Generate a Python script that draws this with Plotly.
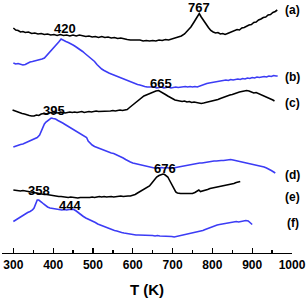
import plotly.graph_objects as go

# ---- data (temperature in K, intensity in arbitrary units, offset per trace) ----
a_T = [300,306,312,318,324,330,338,346,354,362,370,378,386,394,402,410,418,426,434,442,450,458,466,474,482,490,498,506,514,522,530,538,546,554,562,570,578,586,594,602,610,618,626,634,642,650,658,666,674,682,690,698,706,714,722,730,738,746,754,760,767,772,778,784,790,796,802,808,814,820,826,832,838,844,850,856,862,868,874,880,886,892,898,904,910,916,922,928,934,940,946,952,958,963]
a_I = [225,223,222.5,221,221.5,220.5,221,219.5,220,219,219.5,218.5,219,218,218.5,217.5,218.5,217.5,218,217,218,217,218,217.5,216.5,217,216,216.5,215.5,216.5,215.5,216,215,215.5,214.5,215,214,213.5,213,213,212.5,213,212,212.5,212,212.5,212,213,212.5,213.5,213,214,214.5,215.5,217,219,222,226,231,235,239.5,236,233,229,225.5,222.5,221,220,220.5,219,219.5,218.5,219.5,220.5,221.5,222,223.5,223,225,225.5,227,228,228.5,230.5,231,233,234,235.5,236,238,238.5,240.5,241.5,243]

b_T = [300,306,312,318,324,330,336,342,348,354,360,366,372,378,384,390,396,402,408,414,420,426,432,438,444,450,456,462,468,474,480,486,492,498,504,510,516,522,528,534,540,546,552,558,564,570,576,582,588,594,600,606,612,618,624,630,636,642,648,654,660,666,672,678,684,690,696,702,708,714,720,726,732,738,744,750,756,762,768,774,780,786,792,798,804,810,816,822,828,834,840,846,852,858,864,870,876,882,888,894,900,906,912,918,924,930,936,942,948,954,960,964]
b_I = [190,189,189.5,188.5,188,188.5,190,191,191.5,192,193,193.5,194,195,197.5,200,203,205.5,208,211,214,212.5,211.5,210.5,209.5,208,206.5,205,203.5,201.5,199.5,197.5,196,194,191.5,188.5,186,184,182.5,181,180,179,178,177,176,175,174,173,172,171,170,169.5,168.5,168,167,166.5,166,166,165.5,166,165,165.5,166,165,165.5,166,165,165.5,166,165.5,166,166,166.5,166,166.5,166,166.5,166,167,167.5,168.5,169.5,170,170.5,171,171.5,172,172,172.5,173,172.5,173.5,173,173.5,174,173.5,174.5,174,175,174.5,175.5,175,176,175.5,176,176.5,176,177,176.5,177.5,177,177]

c_T = [298,304,310,316,322,328,334,340,346,352,358,364,370,376,382,388,394,400,406,412,418,424,430,436,442,448,454,460,466,472,478,484,490,496,502,508,514,520,526,532,538,544,550,556,562,568,574,580,586,592,598,604,610,616,622,628,634,640,646,652,658,665,670,676,682,688,694,700,706,712,718,724,730,736,742,748,754,760,766,772,778,784,790,796,802,808,814,820,826,832,838,844,850,856,862,868,874,880,886,892,898,904,910,916,922,928,934,940,946,952,956]
c_I = [143,142,141,140.5,139.5,139,138,137.5,137,137,138,137.5,139,139.5,139,140,140.5,140,140.5,140,141,140.5,140,140.5,141,140.5,141,140.5,141,141.5,140.5,141,141.5,141,141.5,142,141.5,141.5,142,141.5,142,142,142.5,142,142.5,143,142.5,143,143.5,145.5,147.5,149,151,153,155,157,158,159,160.5,161.5,162,162.5,161.5,160,158.5,157,155.5,154,153,152.5,152,151.5,152,151,151.5,150.5,151,150.5,150,149.5,150,150.5,151,152,152.5,153,153.5,154.5,155.5,156,157,158,158.5,159.5,160.5,161,161.5,162,162.5,162,161,160,160.5,159.5,158,157,156,155,154,153,152]

d_T = [300,306,312,318,324,330,336,342,348,354,360,366,370,374,378,382,386,390,395,400,406,412,418,424,430,436,442,448,454,460,466,472,478,484,488,492,498,504,510,516,522,528,534,540,546,552,558,564,570,576,582,588,594,600,606,612,618,624,630,636,642,648,654,660,666,672,678,684,690,696,702,708,714,720,726,732,738,744,750,756,762,768,774,780,786,792,798,804,810,816,822,828,834,840,846,852,858,864,870,876,882,888,894,900,906,912,918,924,930,936,942,948,954,958]
d_I = [106,107,108,108.5,109,110,111,112,113,114,115.5,118,122,126,129,131,132.5,134,135,134.5,134,132.5,131.5,130,128.5,127,126,124.5,123,121.5,120,118.5,117,115.5,112,110,108,106.5,105.5,105,104,103,102,101,100,99.5,98.5,97.5,96.5,95,93.5,92,91,90,89.5,88.5,88,87.5,87,86.5,86,85.5,85,85.5,85,85.5,85,85.5,85,85.5,85,85.5,86,86.5,87,87,87.5,88,88.5,89,89.5,90,90,90.5,91,91,91.5,92,92,92.5,92.5,92.5,93,93,93.5,93,92.5,92,91.5,91,90.5,90,89.5,89,88.5,88,87.5,86.5,86,85,84,82.5,81,80]

e_T = [300,306,312,318,324,330,336,342,348,354,360,366,372,378,384,390,396,402,408,414,420,426,432,438,444,450,456,462,468,474,480,486,492,498,504,510,516,522,528,534,540,546,552,558,564,570,576,582,588,594,600,606,612,618,624,630,636,642,648,654,660,666,672,676,680,684,688,692,696,700,704,708,712,716,720,726,732,738,744,750,756,762,766,770,776,782,788,794,800,806,812,818,824,830,836,842,848,854,860,866,870]
e_I = [63,62.5,62.5,62,62.5,62,61.5,61.5,61,60.5,60,59.5,59,58.5,58.5,58,57.5,57.5,57,56.5,56.5,56,56,55.5,56,55.5,55.5,55,55.5,55.5,55,55.5,55.5,56,55.5,56,56.5,56,56.5,56,56.5,56.5,56,56.5,56.5,57,56.5,57,57,57,57.5,58.5,60,61.5,63,64,65.5,67,70,73.5,76,77.5,78.5,79,78.5,77.5,76,73,70,66.5,63,61,60,59.5,59.5,59.5,59.5,60,59.5,59.5,60.5,62,63,61.5,62,63,63.5,64.5,65,65.5,65.5,66.5,67,67.5,68,68.5,69,69.5,70.5,71,71.5]

f_T = [300,306,312,318,324,330,336,342,348,352,356,360,364,368,372,376,380,386,392,398,404,410,416,422,428,434,440,446,452,458,464,470,476,482,488,494,500,506,512,518,524,530,536,542,548,554,560,566,572,578,584,590,596,602,608,614,620,626,632,638,644,650,656,662,668,674,680,686,692,698,704,710,716,722,728,734,740,746,752,758,764,770,776,782,788,794,800,806,812,818,824,830,836,842,848,854,860,866,872,878,884,890,896,900]
f_I = [31.5,33,34.5,36.5,38,39.5,40.5,41.5,43,45,49,53,53,52,50.5,49,47.5,46,45,44.5,44,43.5,43,43,43.5,43,43.5,43.5,43.5,42,40,38,36.5,35,34,33,32,30.5,29,28,27,26,25,24,23,22.5,22,21,20.5,20,19.5,19,18.5,18.5,18,18,18,18,17.5,17.5,17.5,17.5,17,17.5,17,17,16.5,17,17,16.5,16,16.5,17,17.5,18,18.5,19,19.5,20,20.5,21,21.5,22.5,23.5,24.5,25.5,26.5,27,28,28.5,29,29.5,30,30.5,31,31,31.5,31,31.5,31.5,32.5,32,29.5,28.5]

peak_labels = ["420", "767", "665", "395", "676", "358", "444"]
peak_T = [430, 767, 671, 402, 681, 365, 442]
peak_I = [225, 245.5, 170, 143, 84.5, 62.5, 47.5]

series_labels = ["(a)", "(b)", "(c)", "(d)", "(e)", "(f)"]
series_label_I = [243, 176.3, 150, 78, 56.3, 30.5]

tick_vals = [300, 400, 500, 600, 700, 800, 900, 1000]
minor_tick_vals = [350, 450, 550, 650, 750, 850, 950]

BLACK = "#000000"
BLUE = "#3c3cf5"
FONT = "Liberation Sans, Arial, sans-serif"

series = [
    (a_T, a_I, BLACK),
    (b_T, b_I, BLUE),
    (c_T, c_I, BLACK),
    (d_T, d_I, BLUE),
    (e_T, e_I, BLACK),
    (f_T, f_I, BLUE),
]

fig = go.Figure()
for T, I, col in series:
    fig.add_trace(go.Scatter(x=T, y=I, mode="lines",
                             line=dict(color=col, width=1.6),
                             showlegend=False, hoverinfo="skip"))

def bold(s):
    return "<b>" + s + "</b>"

annotations = []
for txt, t, i in zip(peak_labels, peak_T, peak_I):
    annotations.append(dict(x=t, y=i, xref="x", yref="y", text=bold(txt),
                            showarrow=False, xanchor="center", yanchor="middle",
                            font=dict(family=FONT, size=13, color=BLACK)))
for txt, i in zip(series_labels, series_label_I):
    annotations.append(dict(x=1.002, y=i, xref="paper", yref="y", text=bold(txt),
                            showarrow=False, xanchor="center", yanchor="middle",
                            font=dict(family=FONT, size=12, color=BLACK)))

fig.update_layout(
    width=307, height=299,
    margin=dict(l=2, r=15, t=0, b=46, autoexpand=False),
    paper_bgcolor="white", plot_bgcolor="white",
    annotations=annotations,
    font=dict(family=FONT, color=BLACK),
    xaxis=dict(
        range=[271.5, 1000],
        showline=True, linecolor=BLACK, linewidth=1.3,
        showgrid=False, zeroline=False,
        ticks="inside", ticklen=5, tickwidth=1.3, tickcolor=BLACK,
        tickvals=tick_vals, ticktext=[bold(str(v)) for v in tick_vals],
        tickfont=dict(family=FONT, size=12, color=BLACK),
        minor=dict(ticks="inside", ticklen=3, tickwidth=1.3, tickcolor=BLACK,
                   tickvals=minor_tick_vals),
        title=dict(text=bold("T (K)"), font=dict(family=FONT, size=15, color=BLACK),
                   standoff=13),
    ),
    yaxis=dict(range=[0, 253], visible=False, showgrid=False, zeroline=False),
)

fig.write_html("out.html",
               config={"displayModeBar": False, "staticPlot": True},
               post_script="document.body.style.margin='0';document.body.style.overflow='hidden';")
